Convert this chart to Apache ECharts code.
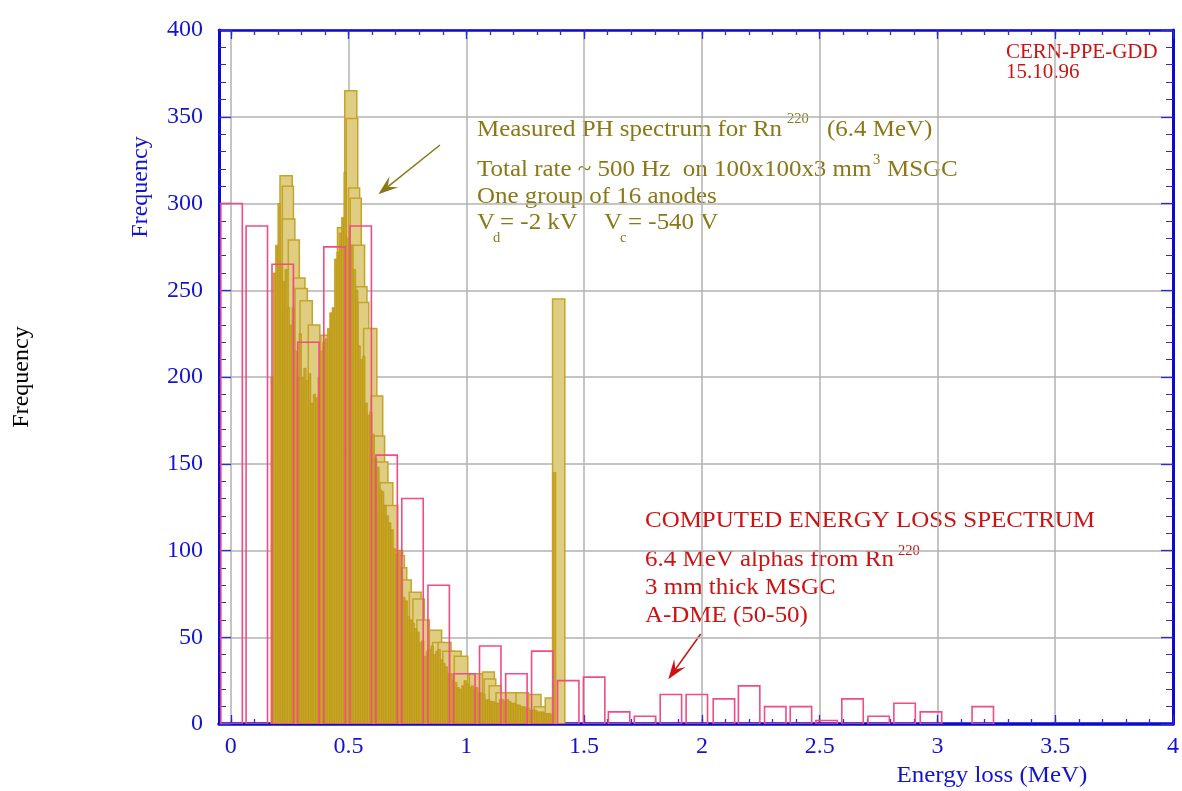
<!DOCTYPE html>
<html lang="en">
<head>
    <meta charset="UTF-8">
    <script src="https://cdn.jsdelivr.net/npm/echarts@6.0.0/dist/echarts.min.js"></script>
    <title>Rn220 PH spectrum</title>
    <style>
        html, body { margin: 0; padding: 0; background: #fff; }
        #main { width: 1182px; height: 791px; }
    </style>
</head>
<body>
<div id="main"></div>
<script type="text/javascript">

    // axis ticks (MeV / counts)
    var xMajorTicks = [0, 0.5, 1, 1.5, 2, 2.5, 3, 3.5, 4];
    var xMinorTicks = [];
    for (var t = 0; t <= 40; t++) xMinorTicks.push(t / 10);

    // computed energy loss spectrum (pink outline bars), left edge + value
    var pinkLeft = [-0.042, 0.065, 0.175, 0.284, 0.395, 0.506, 0.616, 0.726, 0.837, 0.946,
        1.056, 1.167, 1.277, 1.387, 1.497, 1.603, 1.713, 1.823, 1.933, 2.048,
        2.155, 2.266, 2.375, 2.484, 2.594, 2.705, 2.815, 2.927, 3.037, 3.147];
    var pinkValues = [300, 287, 265, 220, 275, 287, 155, 130, 80, 29,
        45, 29, 42, 25, 27, 7, 4.5, 17, 17, 14.5,
        22, 10, 10, 2, 14.5, 4.5, 12, 7, 0, 10];
    var pinkWidth = 0.091;

    // measured spectrum, fine bins (dark bars) starting at 0.17 MeV, 0.01 MeV wide
    var darkStart = 0.17;
    var darkWidth = 0.01;
    var darkValues = [
        200, 260, 276, 300, 265, 255, 262, 240, 230, 240,
        215, 200, 225, 200, 205, 198, 202, 185, 190, 188,
        200, 215, 220, 222, 228, 237, 240, 268, 272, 283,
        292, 318, 280, 276, 276, 262, 250, 218, 210, 212,
        185, 178, 180, 167, 153, 148, 135, 134, 126, 120,
        116, 112, 101, 98, 100, 90, 73, 71, 62, 60,
        58, 55, 53, 47, 48, 39, 42, 43, 45, 40,
        42, 43, 37, 35, 33, 29, 29, 25, 24, 21,
        20, 22, 25, 23, 21, 22, 20, 21, 18, 18,
        17, 14, 14, 13, 13, 12, 12, 14, 14, 13,
        14, 13, 12, 12, 11, 11, 10, 10, 9, 9,
        8, 8, 8, 7, 7, 7, 6, 6, 6, 5,
        145
    ];

    // measured spectrum, wide shaded boxes: [from, to, height]
    var lightBoxes = [
        [0.209, 0.261, 316], [0.219, 0.266, 310], [0.219, 0.272, 291], [0.244, 0.291, 279],
        [0.266, 0.315, 257], [0.273, 0.325, 251], [0.294, 0.346, 244], [0.329, 0.378, 230],
        [0.381, 0.421, 224], [0.453, 0.476, 286],
        [0.484, 0.535, 365], [0.490, 0.539, 349], [0.500, 0.547, 309], [0.507, 0.554, 303],
        [0.511, 0.568, 276], [0.530, 0.578, 252], [0.540, 0.586, 243], [0.564, 0.620, 228],
        [0.596, 0.645, 189], [0.606, 0.653, 166], [0.617, 0.667, 151], [0.634, 0.688, 139],
        [0.657, 0.709, 126], [0.685, 0.730, 100],
        [0.716, 0.737, 97], [0.716, 0.747, 90], [0.716, 0.766, 83], [0.758, 0.808, 76],
        [0.773, 0.822, 72], [0.790, 0.843, 60], [0.843, 0.895, 54], [0.857, 0.905, 47],
        [0.880, 0.935, 47], [0.900, 0.950, 42], [0.930, 0.978, 42], [0.949, 1.006, 39],
        [1.006, 1.055, 28], [1.013, 1.069, 29], [1.069, 1.119, 30], [1.076, 1.125, 26],
        [1.097, 1.147, 22], [1.126, 1.175, 18], [1.168, 1.218, 18], [1.211, 1.264, 18],
        [1.264, 1.317, 17], [1.288, 1.338, 10], [1.335, 1.366, 15],
        [1.366, 1.418, 245]
    ];

    var FONT = '"Liberation Serif", "DejaVu Serif", serif';
    var BLUE = '#1414cf';
    var OLIVE = '#8b7716';
    var RED = '#cc1212';

    var darkData = darkValues.map(function (v, i) {
        return [darkStart + i * darkWidth, darkStart + (i + 1) * darkWidth, v];
    });
    var pinkData = [];
    pinkValues.forEach(function (v, i) {
        if (v > 0) pinkData.push([pinkLeft[i], pinkLeft[i] + pinkWidth, v]);
    });

    function boxRender(style) {
        return function (params, api) {
            var p0 = api.coord([api.value(0), api.value(2)]);
            var p1 = api.coord([api.value(1), 0]);
            return {
                type: 'rect',
                shape: {x: p0[0], y: p0[1], width: p1[0] - p0[0], height: p1[1] - p0[1]},
                style: style
            };
        };
    }

    function arrow(x0, y0, x1, y1, color) {
        var dx = x1 - x0, dy = y1 - y0;
        var len = Math.sqrt(dx * dx + dy * dy);
        var ux = dx / len, uy = dy / len;
        var bx = x1 - ux * 20, by = y1 - uy * 20;
        var nx = x1 - ux * 12, ny = y1 - uy * 12;
        return [
            {type: 'line', shape: {x1: x0, y1: y0, x2: nx, y2: ny}, style: {stroke: color, lineWidth: 1.5}},
            {
                type: 'polygon',
                shape: {points: [[x1, y1], [bx - uy * 7, by + ux * 7], [nx, ny], [bx + uy * 7, by - ux * 7]]},
                style: {fill: color}
            }
        ];
    }

    // reference font is a little wider than Liberation Serif, hence scaleX
    function txt(x, y, s, color, size, sx) {
        return {
            type: 'text', x: x, y: y, scaleX: sx || 1.04,
            style: {text: s, fill: color, font: (size || 24) + 'px ' + FONT, verticalAlign: 'middle'}
        };
    }

    function xAxisDef(pos, ticks, len, labels, split) {
        return {
            type: 'value', min: -0.05, max: 4, position: pos,
            axisLine: {show: len > 6, onZero: false, lineStyle: {color: '#0a0ad0', width: pos === 'bottom' ? 3.5 : 2.5}},
            axisTick: {inside: true, length: len, customValues: ticks, lineStyle: {color: '#2a2ad8', width: 1.3}},
            axisLabel: labels ? {
                customValues: ticks, color: BLUE, fontFamily: FONT, fontSize: 24, margin: 11
            } : {show: false},
            splitLine: {show: !!split, lineStyle: {color: '#b2b2b2', width: 1.5}}
        };
    }

    function yAxisDef(pos, labels, split) {
        return {
            type: 'value', min: 0, max: 400, interval: 50, position: pos,
            axisLine: {onZero: false, lineStyle: {color: '#0a0ad0', width: 3}},
            axisTick: {inside: true, length: 12, lineStyle: {color: '#2a2ad8', width: 1.3}},
            minorTick: {show: true, splitNumber: 5, length: 7, lineStyle: {color: '#2a2ad8', width: 1}},
            axisLabel: labels ? {color: BLUE, fontFamily: FONT, fontSize: 24, margin: 16} : {show: false},
            splitLine: {show: split, lineStyle: {color: '#b2b2b2', width: 1.5}}
        };
    }

    var chart = echarts.init(document.getElementById('main'));

    var graphics = [
        txt(477, 130, 'Measured PH spectrum for Rn', OLIVE),
        txt(787, 119, '220', OLIVE, 14),
        txt(827, 130, '(6.4 MeV)', OLIVE),
        txt(477, 170, 'Total rate ~ 500 Hz  on 100x100x3 mm', OLIVE),
        txt(873, 160, '3', OLIVE, 14),
        txt(887, 170, 'MSGC', OLIVE),
        txt(477, 197, 'One group of 16 anodes', OLIVE),
        txt(477, 223, 'V', OLIVE),
        txt(493, 238, 'd', OLIVE, 14),
        txt(500, 223, '= -2 kV', OLIVE),
        txt(604, 223, 'V', OLIVE),
        txt(620, 238, 'c', OLIVE, 14),
        txt(628, 223, '= -540 V', OLIVE),
        txt(645, 521, 'COMPUTED ENERGY LOSS SPECTRUM', RED),
        txt(645, 560, '6.4 MeV alphas from Rn', RED),
        txt(898, 551, '220', RED, 14),
        txt(645, 588, '3 mm thick MSGC', RED),
        txt(645, 616, 'A-DME (50-50)', RED),
        txt(1006, 53, 'CERN-PPE-GDD', RED, 20, 1.05),
        txt(1006, 73, '15.10.96', RED, 20, 1.05),
        {
            type: 'text', x: 992, y: 776, scaleX: 1.04,
            style: {text: 'Energy loss (MeV)', fill: BLUE, font: '24px ' + FONT, align: 'center', verticalAlign: 'middle'}
        },
        {
            type: 'text', x: 141, y: 187, rotation: Math.PI / 2,
            style: {text: 'Frequency', fill: BLUE, font: '24px ' + FONT, align: 'center', verticalAlign: 'middle'}
        },
        {
            type: 'text', x: 22, y: 377, rotation: Math.PI / 2,
            style: {text: 'Frequency', fill: '#000', font: '24px ' + FONT, align: 'center', verticalAlign: 'middle'}
        }
    ].concat(arrow(440, 145, 378.3, 194.3, OLIVE), arrow(700.7, 634, 668.3, 679.3, RED));

    var option = {
        animation: false,
        backgroundColor: '#fff',
        textStyle: {fontFamily: FONT},
        grid: {left: 219, top: 30, width: 956, height: 694, containLabel: false},
        xAxis: [
            xAxisDef('bottom', xMajorTicks, 9, true, true),
            xAxisDef('bottom', xMinorTicks, 5, false, false),
            xAxisDef('top', xMajorTicks, 9, false, false),
            xAxisDef('top', xMinorTicks, 5, false, false)
        ],
        yAxis: [
            yAxisDef('left', true, true),
            yAxisDef('right', false, false)
        ],
        series: [
            {
                type: 'custom', name: 'measured (wide)', clip: true,
                renderItem: boxRender({fill: '#dfcd82', stroke: '#c5a42a', lineWidth: 1.5}),
                encode: {x: [0, 1], y: 2},
                data: lightBoxes, z: 2
            },
            {
                type: 'custom', name: 'measured', clip: true,
                renderItem: boxRender({fill: '#c9a623', stroke: '#b8961a', lineWidth: 0.7}),
                encode: {x: [0, 1], y: 2},
                data: darkData, z: 3
            },
            {
                type: 'custom', name: 'computed', clip: true,
                renderItem: boxRender({fill: 'none', stroke: '#f24b86', lineWidth: 1.6}),
                encode: {x: [0, 1], y: 2},
                data: pinkData, z: 4
            }
        ],
        graphic: graphics
    };

    chart.setOption(option);
</script>
</body>
</html>
